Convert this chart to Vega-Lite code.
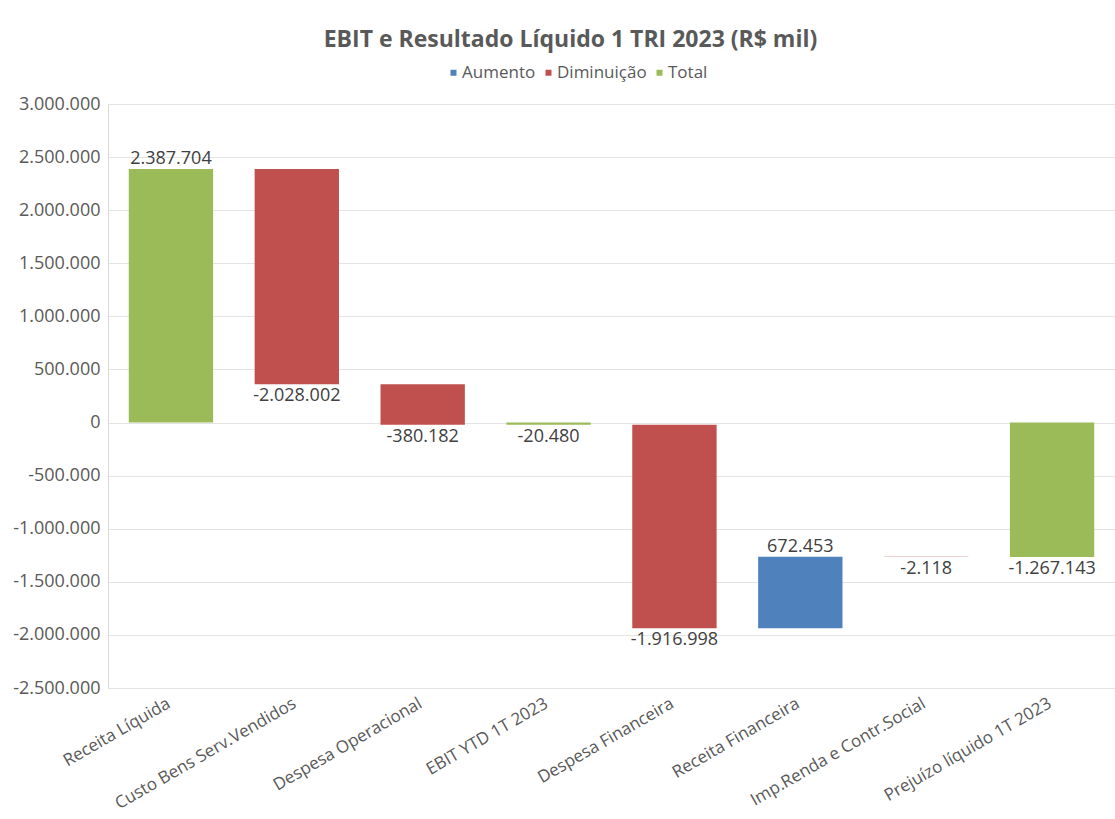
{
  "$schema": "https://vega.github.io/schema/vega-lite/v6.json",
  "autosize": "none",
  "width": 1007,
  "height": 584,
  "padding": {"left": 108, "top": 104, "right": 0, "bottom": 131},
  "background": "white",
  "title": {
    "text": "EBIT e Resultado Líquido 1 TRI 2023 (R$ mil)",
    "font": "Open Sans",
    "fontSize": 23,
    "fontWeight": "bold",
    "color": "#595959",
    "anchor": "middle",
    "dx": -41,
    "offset": 12
  },
  "config": {
    "locale": {
      "number": {"decimal": ",", "thousands": ".", "grouping": [3], "currency": ["R$ ", ""], "minus": "-"}
    },
    "view": {"stroke": null},
    "font": "Open Sans"
  },
  "data": {
    "values": [
      {"category": "Receita Líquida", "start": 0, "end": 2387704, "value": 2387704, "type": "Total"},
      {"category": "Custo Bens Serv.Vendidos", "start": 2387704, "end": 359702, "value": -2028002, "type": "Diminuição"},
      {"category": "Despesa Operacional", "start": 359702, "end": -20480, "value": -380182, "type": "Diminuição"},
      {"category": "EBIT YTD 1T 2023", "start": 0, "end": -20480, "value": -20480, "type": "Total"},
      {"category": "Despesa Financeira", "start": -20480, "end": -1937478, "value": -1916998, "type": "Diminuição"},
      {"category": "Receita Financeira", "start": -1937478, "end": -1265025, "value": 672453, "type": "Aumento"},
      {"category": "Imp.Renda e Contr.Social", "start": -1265025, "end": -1267143, "value": -2118, "type": "Diminuição"},
      {"category": "Prejuízo líquido 1T 2023", "start": 0, "end": -1267143, "value": -1267143, "type": "Total"}
    ]
  },
  "encoding": {
    "x": {
      "field": "category",
      "type": "nominal",
      "sort": null,
      "scale": {"paddingInner": 0.33, "paddingOuter": 0.165},
      "axis": {
        "title": null,
        "labelAngle": -30,
        "labelFontSize": 17,
        "labelColor": "#595959",
        "labelFont": "Open Sans",
        "labelLimit": 0,
        "labelOffset": -6,
        "domain": false,
        "ticks": false,
        "labelPadding": 7
      }
    }
  },
  "layer": [
    {
      "mark": {"type": "bar"},
      "encoding": {
        "y": {
          "field": "start",
          "type": "quantitative",
          "scale": {"domain": [-2500000, 3000000], "nice": false, "zero": false},
          "axis": {
            "title": null,
            "values": [-2500000, -2000000, -1500000, -1000000, -500000, 0, 500000, 1000000, 1500000, 2000000, 2500000, 3000000],
            "format": ",d",
            "labelFontSize": 18,
            "labelColor": "#595959",
            "labelFont": "Open Sans",
            "ticks": false,
            "labelPadding": 8,
            "domain": true,
            "domainColor": "#D9D9D9",
            "gridColor": "#E3E3E3",
            "gridWidth": 1
          }
        },
        "y2": {"field": "end"},
        "color": {
          "field": "type",
          "type": "nominal",
          "scale": {"domain": ["Aumento", "Diminuição", "Total"], "range": ["#4F81BD", "#C0504D", "#9BBB59"]},
          "legend": {
            "title": null,
            "orient": "none",
            "direction": "horizontal",
            "legendX": 337,
            "legendY": -40,
            "symbolType": "square",
            "symbolSize": 36,
            "symbolStrokeWidth": 0,
            "labelFontSize": 17,
            "labelColor": "#595959",
            "labelFont": "Open Sans",
            "labelOffset": 0,
            "columnPadding": 4,
            "symbolOffset": 0
          }
        }
      }
    },
    {
      "transform": [{"filter": "datum.value > 0"}],
      "mark": {"type": "text", "baseline": "bottom", "dy": -1, "fontSize": 18, "color": "#404040", "font": "Open Sans"},
      "encoding": {
        "y": {"field": "end", "type": "quantitative"},
        "text": {"field": "value", "type": "quantitative", "format": ",d"}
      }
    },
    {
      "transform": [{"filter": "datum.value < 0"}],
      "mark": {"type": "text", "baseline": "top", "dy": 3, "fontSize": 18, "color": "#404040", "font": "Open Sans"},
      "encoding": {
        "y": {"field": "end", "type": "quantitative"},
        "text": {"field": "value", "type": "quantitative", "format": ",d"}
      }
    }
  ]
}
